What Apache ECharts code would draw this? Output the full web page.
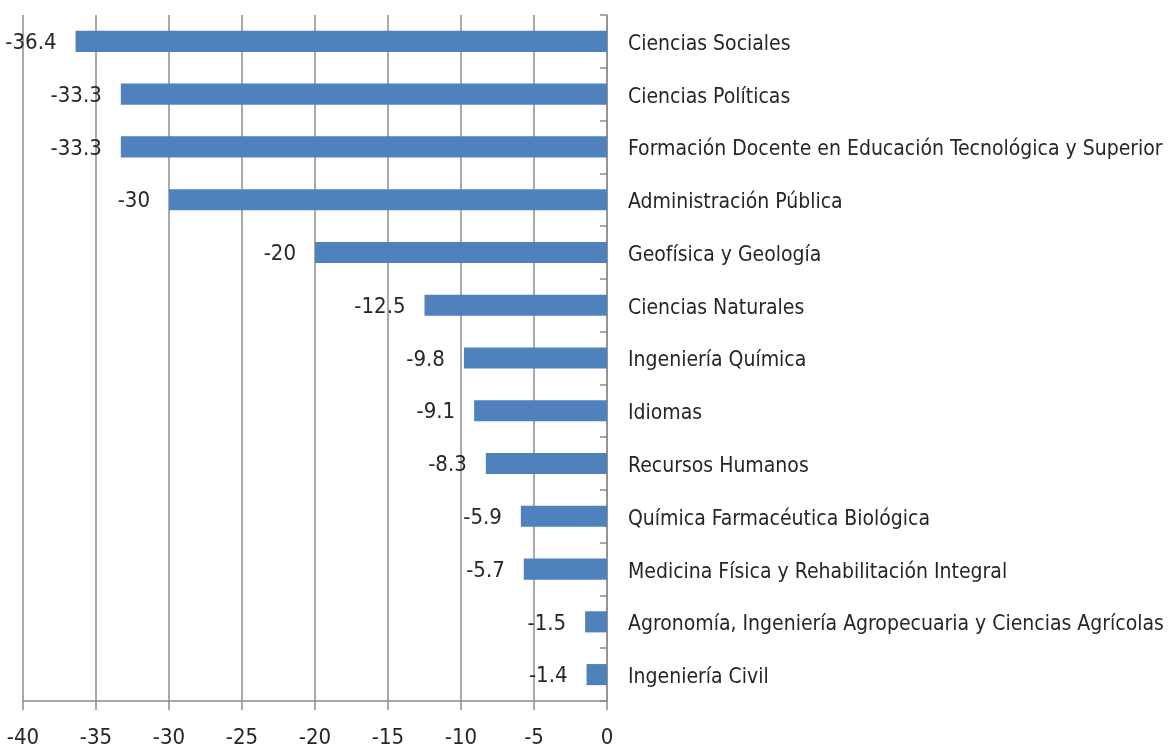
<!DOCTYPE html>
<html>
<head>
<meta charset="utf-8">
<script src="https://cdn.jsdelivr.net/npm/echarts@6/dist/echarts.min.js"></script>
<style>
  html, body { margin: 0; padding: 0; background: #fff; }
  #chart { width: 1168px; height: 751px; }
</style>
</head>
<body>
<div id="chart"></div>
<script>
const carreras = ['Ciencias Sociales', 'Ciencias Políticas', 'Formación Docente en Educación Tecnológica y Superior',
  'Administración Pública', 'Geofísica y Geología', 'Ciencias Naturales', 'Ingeniería Química', 'Idiomas',
  'Recursos Humanos', 'Química Farmacéutica Biológica', 'Medicina Física y Rehabilitación Integral',
  'Agronomía, Ingeniería Agropecuaria y Ciencias Agrícolas', 'Ingeniería Civil'];
const variacion = [-36.4, -33.3, -33.3, -30, -20, -12.5, -9.8, -9.1, -8.3, -5.9, -5.7, -1.5, -1.4];

const FONT = '"DejaVu Sans Condensed", "Liberation Sans Narrow", sans-serif';
const gris = '#8c8c8c';
const texto = '#262626';

const chart = echarts.init(document.getElementById('chart'));
chart.setOption({
  animation: false,
  textStyle: { fontFamily: FONT },
  grid: { left: 23, right: 561, top: 15, bottom: 50 },
  xAxis: {
    type: 'value', min: -40, max: 0, interval: 5,
    axisLine: { show: true, lineStyle: { color: gris, width: 1.5 } },
    axisTick: { show: true, length: 9, lineStyle: { color: gris, width: 1.5 } },
    axisLabel: { color: texto, fontSize: 22, margin: 26, fontFamily: FONT },
    splitLine: { show: true, lineStyle: { color: gris, width: 1.5 } }
  },
  yAxis: {
    type: 'category', data: carreras, inverse: true, position: 'right',
    axisLine: { show: true, lineStyle: { color: gris, width: 1.5 } },
    axisTick: { show: true, inside: true, length: 7, lineStyle: { color: gris, width: 1.5 } },
    axisLabel: {
      margin: 21,
      formatter: v => '{c|' + v + '}',
      rich: { c: { color: texto, fontSize: 21, fontFamily: FONT, padding: [6, 0, 0, 0] } }
    }
  },
  series: [{
    type: 'bar', data: variacion, barWidth: '40%',
    itemStyle: { color: '#4f81bd' },
    label: { show: true, position: 'left', distance: 19, offset: [0, 2], color: texto, fontSize: 22, fontFamily: FONT }
  }]
});
</script>
</body>
</html>
